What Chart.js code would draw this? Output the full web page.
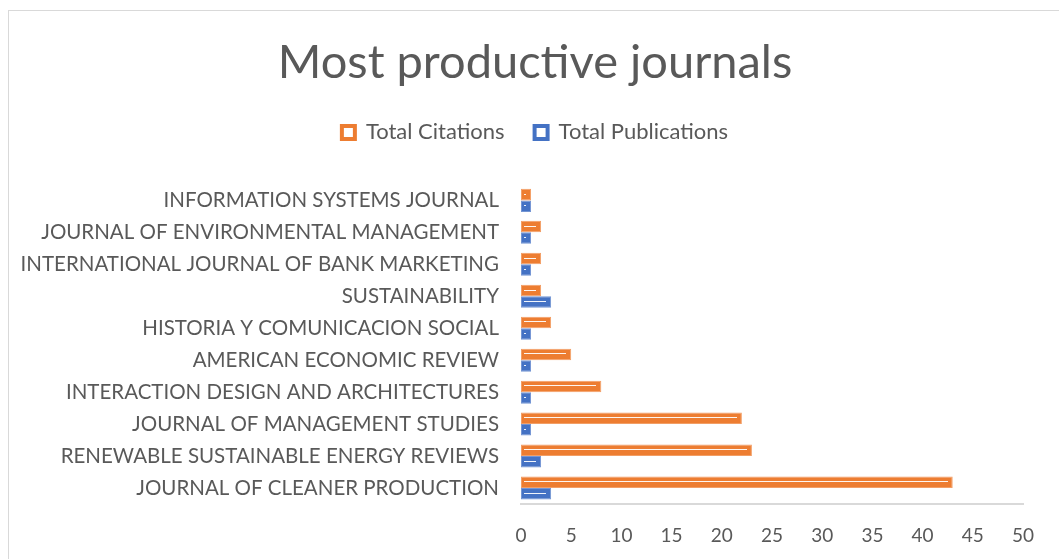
<!DOCTYPE html>
<html>
<head>
<meta charset="utf-8">
<script src="https://cdn.jsdelivr.net/npm/chart.js@4/dist/chart.umd.min.js"></script>
<style>
    html, body { margin: 0; padding: 0; background: #fff; overflow: hidden; }
    #frame {
        position: absolute; left: 8px; top: 10px;
        width: 1100px; height: 600px;
        border: 1px solid #d9d9d9;
    }
    #wrap { position: absolute; left: 0; top: 0; width: 1059px; height: 559px; }
</style>
</head>
<body>
<div id="frame"></div>
<div id="wrap"><canvas id="chart"></canvas></div>
<script>
// ------------------------------------------------------------
//  Data
// ------------------------------------------------------------

const journals = [
    "INFORMATION SYSTEMS JOURNAL",
    "JOURNAL OF ENVIRONMENTAL MANAGEMENT",
    "INTERNATIONAL JOURNAL OF BANK MARKETING",
    "SUSTAINABILITY",
    "HISTORIA Y COMUNICACION SOCIAL",
    "AMERICAN ECONOMIC REVIEW",
    "INTERACTION DESIGN AND ARCHITECTURES",
    "JOURNAL OF MANAGEMENT STUDIES",
    "RENEWABLE SUSTAINABLE ENERGY REVIEWS",
    "JOURNAL OF CLEANER PRODUCTION",
];

const totalCitations    = [1, 2, 2, 2, 3, 5, 8, 22, 23, 43];
const totalPublications = [1, 1, 1, 3, 1, 1, 1, 1, 2, 3];

const xTicks = [0, 5, 10, 15, 20, 25, 30, 35, 40, 45, 50];

// ------------------------------------------------------------
//  Style
// ------------------------------------------------------------

const ORANGE = "#ED7D31";
const BLUE   = "#4472C4";
const TEXT   = "#595959";
const FONT   = "Lato, 'Open Sans', sans-serif";

// white stripe inside each bar (Excel-like shape effect)
const barStripe = {
    id: "barStripe",
    afterDatasetsDraw(chart) {
        const ctx = chart.ctx;
        ctx.save();
        ctx.lineWidth = 1;
        ctx.strokeStyle = "rgba(255,255,255,0.92)";
        chart.data.datasets.forEach((ds, i) => {
            chart.getDatasetMeta(i).data.forEach(bar => {
                const x0 = Math.round(bar.base) + 3;
                const x1 = Math.round(bar.x) - 5;
                if (x1 <= x0) return;
                const y = Math.round(bar.y) - 0.5;
                ctx.beginPath();
                ctx.moveTo(x0, y);
                ctx.lineTo(x1, y);
                ctx.stroke();
            });
        });
        ctx.restore();
    },
};

// extra space between legend and plot
const legendGap = {
    id: "legendGap",
    beforeInit(chart) {
        const fit = chart.legend.fit;
        chart.legend.fit = function () {
            fit.call(this);
            this.height += 31;
        };
    },
};

// centre title + legend on the frame rather than the padded canvas
const headerShift = {
    id: "headerShift",
    afterLayout(chart) {
        [chart.titleBlock, chart.legend].forEach(b => {
            if (!b) return;
            b.left += 23.5;
            b.right += 23.5;
        });
    },
};

new Chart(document.getElementById("chart"), {
    type: "bar",
    data: {
        labels: journals,
        datasets: [
            {
                label: "Total Citations",
                data: totalCitations,
                backgroundColor: ORANGE,
                borderColor: "rgba(237,125,49,0.75)",
                borderWidth: 1,
                borderSkipped: false,
                categoryPercentage: 0.72,
                barPercentage: 1,
            },
            {
                label: "Total Publications",
                data: totalPublications,
                backgroundColor: BLUE,
                borderColor: "rgba(68,114,196,0.75)",
                borderWidth: 1,
                borderSkipped: false,
                categoryPercentage: 0.72,
                barPercentage: 1,
            },
        ],
    },
    options: {
        indexAxis: "y",
        responsive: true,
        maintainAspectRatio: false,
        animation: false,
        layout: { padding: { left: 0, right: 36, top: 0, bottom: 13 } },
        plugins: {
            title: {
                display: true,
                text: "Most productive journals",
                color: TEXT,
                font: { family: FONT, size: 47, weight: "normal" },
                padding: { top: 35, bottom: 0 },
            },
            legend: {
                position: "top",
                labels: {
                    color: TEXT,
                    font: { family: FONT, size: 22 },
                    boxWidth: 13,
                    boxHeight: 13,
                    padding: 30,
                    generateLabels: chart => chart.data.datasets.map((ds, i) => ({
                        text: ds.label,
                        fillStyle: "#fff",
                        strokeStyle: ds.backgroundColor,
                        lineWidth: 4,
                        fontColor: TEXT,
                        datasetIndex: i,
                        hidden: false,
                    })),
                },
            },
            tooltip: { enabled: false },
        },
        scales: {
            x: {
                min: 0,
                max: 50,
                afterBuildTicks: scale => { scale.ticks = xTicks.map(v => ({ value: v })); },
                afterFit: scale => { scale.height = 42; },
                grid: { display: false, drawTicks: false },
                border: { display: true, color: "#d9d9d9", width: 2 },
                ticks: {
                    color: TEXT,
                    font: { family: FONT, size: 19 },
                    padding: 20,
                },
            },
            y: {
                afterFit: scale => { scale.width = 521; },
                grid: { display: false, drawTicks: false },
                border: { display: false },
                ticks: {
                    color: TEXT,
                    font: { family: FONT, size: 20.5 },
                    padding: 22,
                },
            },
        },
    },
    plugins: [barStripe, legendGap, headerShift],
});
</script>
</body>
</html>
